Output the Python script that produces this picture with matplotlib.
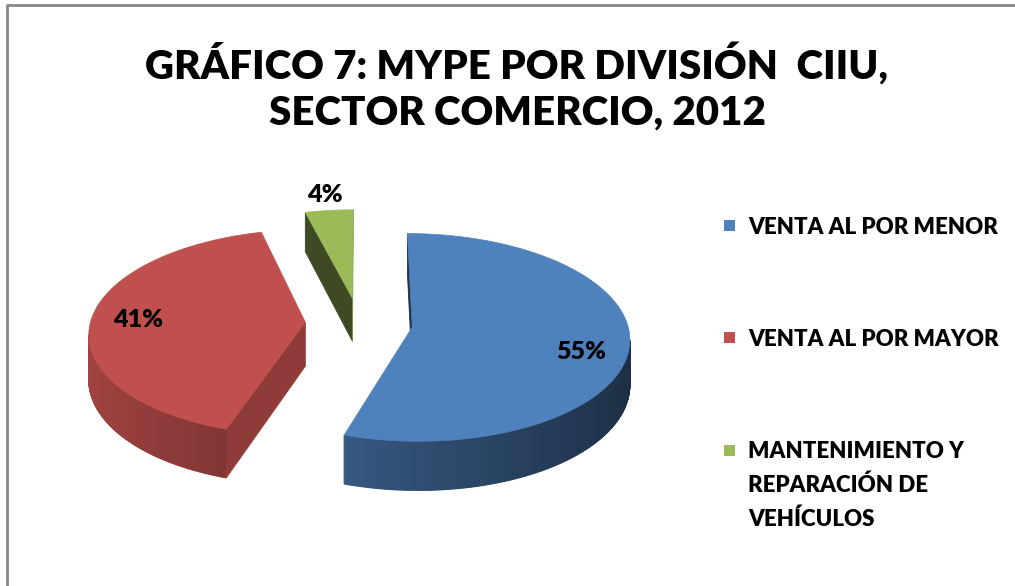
import numpy as np
import matplotlib.pyplot as plt
from matplotlib.patches import Polygon, Rectangle
from matplotlib.lines import Line2D
from matplotlib.colors import to_rgb

title = 'GRÁFICO 7: MYPE POR DIVISIÓN  CIIU,\nSECTOR COMERCIO, 2012'
categories = ['VENTA AL POR MENOR', 'VENTA AL POR MAYOR',
              'MANTENIMIENTO Y\nREPARACIÓN DE\nVEHÍCULOS']
shares = [55, 41, 4]
colors = ['#4f81bd', '#c0504d', '#9bbb59']

# look of the 3d pie, in pixels
CX, CY = 359, 323      # centre of the pie
A, B = 215, 102        # half axes of the ellipse
DEPTH = 44             # thickness
K = 0.1                # perspective
EXPLODE = 0.25

plt.rcParams['font.family'] = ['Lato', 'DejaVu Sans']


def proj(x, z, h=0.0):
    # x to the right, z away from the viewer, h downwards
    p = 1.0 / (1.0 + K * z)
    return CX + A * x * p, CY - B * z * p + h * p


def shade(c, f):
    r, g, b = to_rgb(c)
    return (r * f, g * f, b * f)


def facing(nx, nz, px, pz):
    # is a vertical face with normal (nx, nz) at (px, pz) seen by the camera
    return nx * (0 - px) + nz * (-1.0 / K - pz) > 0


fig = plt.figure(figsize=(10.15, 5.86), dpi=100)
ax = fig.add_axes([0, 0, 1, 1])
ax.set_xlim(0, 1015)
ax.set_ylim(586, 0)
ax.axis('off')

total = float(sum(shares))
bounds = np.concatenate([[0], np.cumsum(shares)]) / total * 360.0

slices = []
for i in range(len(shares)):
    t1, t2 = bounds[i], bounds[i + 1]
    mid = np.radians((t1 + t2) / 2)
    ox, oz = EXPLODE * np.sin(mid), EXPLODE * np.cos(mid)
    slices.append((i, t1, t2, mid, ox, oz))

# back to front
for i, t1, t2, mid, ox, oz in sorted(slices, key=lambda s: -s[5]):
    t = np.radians(np.linspace(t1, t2, 400))
    xs, zs = ox + np.sin(t), oz + np.cos(t)

    # outer wall
    for j in range(len(t) - 1):
        tm = (t[j] + t[j + 1]) / 2
        nx, nz = np.sin(tm), np.cos(tm)
        if not facing(nx, nz, ox + nx, oz + nz):
            continue
        quad = [proj(xs[j], zs[j]), proj(xs[j + 1], zs[j + 1]),
                proj(xs[j + 1], zs[j + 1], DEPTH), proj(xs[j], zs[j], DEPTH)]
        col = shade(colors[i], 0.60 - 0.24 * nx)
        ax.add_patch(Polygon(quad, closed=True, fc=col, ec=col, lw=0.8))

    # cut faces
    for ang, sgn in ((t1, -1), (t2, 1)):
        a = np.radians(ang)
        nx, nz = sgn * np.cos(a), -sgn * np.sin(a)
        ex, ez = ox + np.sin(a), oz + np.cos(a)
        if not facing(nx, nz, (ox + ex) / 2, (oz + ez) / 2):
            continue
        quad = [proj(ox, oz), proj(ex, ez), proj(ex, ez, DEPTH), proj(ox, oz, DEPTH)]
        col = shade(colors[i], 0.57 + 0.18 * nx)
        ax.add_patch(Polygon(quad, closed=True, fc=col, ec=col, lw=0.6))

    # top
    top = [proj(ox, oz)] + [proj(x, z) for x, z in zip(xs, zs)]
    ax.add_patch(Polygon(top, closed=True, fc=colors[i], ec=colors[i], lw=0.5))

# percent labels
for i, t1, t2, mid, ox, oz in slices:
    r = 0.78 if shares[i] >= 10 else 1.2
    lx, ly = proj(ox + r * np.sin(mid), oz + r * np.cos(mid))
    if shares[i] > 50:
        ly += 12
    ax.text(lx, ly, '%d%%' % shares[i], fontsize=18, fontweight='heavy',
            ha='center', va='center', color='black')

# title
ax.text(517, 87, title, fontsize=29, fontweight='heavy', ha='center',
        va='center', linespacing=1.3)

# legend
leg_y = [225, 337, 450]
for i, name in enumerate(categories):
    ax.add_patch(Rectangle((724, leg_y[i] - 5.5), 11, 11, fc=colors[i], ec='none'))
    ax.text(748, leg_y[i] - 8.5, name, fontsize=16, fontweight='heavy',
            ha='left', va='top', linespacing=1.7)

# chart border (only left and top show)
fig.add_artist(Line2D([7.5, 7.5, 1015], [586, 5, 5], transform=ax.transData,
                      color='#878787', lw=2))

fig.savefig('out.png', dpi=100, facecolor='white')
